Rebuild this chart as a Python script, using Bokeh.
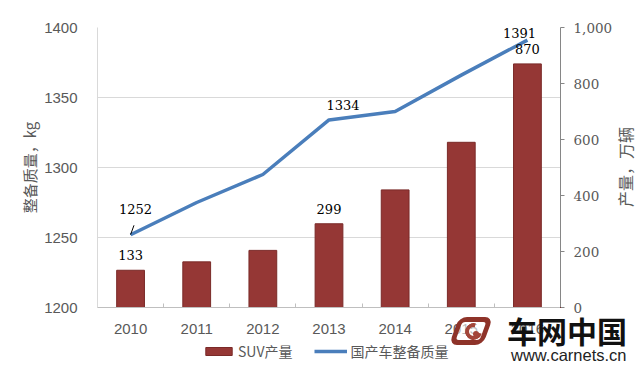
import math
from bokeh.plotting import figure
from bokeh.layouts import column
from bokeh.models import (Range1d, LinearAxis, FixedTicker, Legend, LegendItem,
                          NumeralTickFormatter, ColumnDataSource, Div)
from bokeh.embed import file_html
from bokeh.resources import INLINE
from bokeh.core.properties import value

# ---------------- data ----------------
years = ["2010", "2011", "2012", "2013", "2014", "2015", "2016"]
suv_output = [133, 163, 204, 299, 420, 590, 870]          # 万辆 (right axis)
curb_weight = [1252, 1275, 1295, 1334, 1340, 1366, 1391]  # kg (left axis)
bar_labeled = [0, 3, 6]
line_labeled = [0, 3, 6]
left_ticks = [1200, 1250, 1300, 1350, 1400]
right_ticks = [0, 200, 400, 600, 800, 1000]

# label offsets (style)
line_label_dx = [5, 14, -8]
line_label_dy = [-26, -15, -7]

xs = list(range(len(years)))

SANS = "Liberation Sans"
SERIF = "DejaVu Serif"
CJK = "Noto Sans CJK SC"
GRAY = "#595959"
BAR_FILL = "#953735"
BAR_LINE = "#7A2A28"
LINE_COLOR = "#4A7EBB"

W, H = 640, 373
LEFT, RIGHT, TOP, BOTTOM = 97, 80, 27, 66

p = figure(width=W, height=H, output_backend="svg", toolbar_location=None,
           x_range=Range1d(-0.5, len(years) - 0.5),
           y_range=Range1d(left_ticks[0], left_ticks[-1]),
           min_border_left=LEFT, min_border_right=RIGHT, min_border_top=TOP,
           min_border_bottom=BOTTOM)
p.outline_line_color = None
p.background_fill_color = "white"
p.border_fill_color = "white"

p.extra_y_ranges = {"prod": Range1d(right_ticks[0], right_ticks[-1])}

# grid
p.xgrid.grid_line_color = None
p.ygrid.ticker = FixedTicker(ticks=left_ticks)
p.ygrid.grid_line_color = "#D9D9D9"
p.ygrid.grid_line_width = 1

# left axis
ly = p.yaxis[0]
ly.ticker = FixedTicker(ticks=left_ticks)
ly.axis_line_color = "#D9D9D9"
ly.major_tick_line_color = None
ly.minor_tick_line_color = None
ly.major_label_text_font = SANS
ly.major_label_text_font_size = "15px"
ly.major_label_text_color = GRAY
ly.major_label_standoff = 14
ly.axis_label = "整备质量，kg"
ly.axis_label_text_font = CJK
ly.axis_label_text_font_size = "15px"
ly.axis_label_text_font_style = "normal"
ly.axis_label_text_color = GRAY
ly.axis_label_standoff = 1

# bottom axis
bx = p.xaxis[0]
bx.ticker = FixedTicker(ticks=xs, minor_ticks=[i - 0.5 for i in range(len(years) + 1)])
bx.major_label_overrides = {i: y for i, y in enumerate(years)}
bx.axis_line_color = "#BFBFBF"
bx.major_tick_line_color = None
bx.minor_tick_line_color = "#BFBFBF"
bx.minor_tick_in = 4
bx.minor_tick_out = 0
bx.major_label_text_font = SANS
bx.major_label_text_font_size = "15px"
bx.major_label_text_color = GRAY
bx.major_label_standoff = 10

# right axis
ry = LinearAxis(y_range_name="prod", ticker=FixedTicker(ticks=right_ticks),
                formatter=NumeralTickFormatter(format="0,0"))
ry.axis_line_color = "#868686"
ry.major_tick_line_color = "#868686"
ry.major_tick_in = 0
ry.major_tick_out = 4
ry.minor_tick_line_color = None
ry.major_label_text_font = SERIF
ry.major_label_text_font_size = "13.5px"
ry.major_label_text_color = GRAY
ry.major_label_standoff = 9
p.add_layout(ry, "right")

# bars
bars = p.vbar(x=xs, top=suv_output, bottom=0, width=0.42, y_range_name="prod",
              fill_color=BAR_FILL, line_color=BAR_LINE, line_width=1)
# line
line = p.line(x=xs, y=curb_weight, line_color=LINE_COLOR, line_width=3.5)

# data labels
bsrc = ColumnDataSource(dict(x=[xs[i] for i in bar_labeled],
                             y=[suv_output[i] for i in bar_labeled],
                             t=[str(suv_output[i]) for i in bar_labeled]))
p.text(x="x", y="y", text="t", source=bsrc, y_range_name="prod",
       text_align="center", text_baseline="middle", y_offset=-15,
       text_font=value(SERIF), text_font_size="13px", text_color="black")

lsrc = ColumnDataSource(dict(x=[xs[i] for i in line_labeled],
                             y=[curb_weight[i] for i in line_labeled],
                             t=[str(curb_weight[i]) for i in line_labeled],
                             dx=line_label_dx, dy=line_label_dy))
p.text(x="x", y="y", text="t", source=lsrc, x_offset="dx", y_offset="dy",
       text_align="center", text_baseline="middle",
       text_font=value(SERIF), text_font_size="13px", text_color="black")

# leader line for first line label
p.ray(x=[xs[0]], y=[curb_weight[0]], length=10, length_units="screen",
      angle=math.radians(70), line_color="black", line_width=1)

# ---------------- overlay strip: legend ----------------
# ranges chosen so that the strip's own copies of the series stay out of view;
# they only supply the legend glyphs
s = figure(width=W, height=BOTTOM, output_backend="svg", toolbar_location=None,
           x_range=Range1d(-100, -99), y_range=Range1d(-100, -99),
           x_axis_location=None, y_axis_location=None,
           min_border=0, margin=(-BOTTOM, 0, 0, 0))
s.xgrid.grid_line_color = None
s.ygrid.grid_line_color = None
s.outline_line_color = None
s.background_fill_alpha = 0
s.border_fill_alpha = 0
s.background_fill_color = None
s.border_fill_color = None

leg_bar = s.vbar(x=xs, top=suv_output, bottom=0, width=0.42,
                 fill_color=BAR_FILL, line_color=BAR_LINE)
leg_line = s.line(x=xs, y=curb_weight, line_color=LINE_COLOR, line_width=3.5)

legend = Legend(items=[LegendItem(label="SUV产量", renderers=[leg_bar]),
                       LegendItem(label="国产车整备质量", renderers=[leg_line])],
                orientation="horizontal", location=(205 - LEFT - 3, 12),
                glyph_width=33, glyph_height=10, label_height=14,
                label_standoff=3, spacing=22, padding=3, margin=0,
                label_text_font=CJK, label_text_font_size="14px",
                label_text_color=GRAY, border_line_color=None,
                background_fill_alpha=0)
s.add_layout(legend, "center")

# ---------------- overlay: right axis title, watermark ----------------
ov_html = (
    '<div style="position:relative;width:640px;height:373px;">'
    # right axis title, reading bottom-to-top
    '<div style="position:absolute;left:625px;top:167px;white-space:nowrap;'
    'transform:translate(-50%,-50%) rotate(-90deg);'
    "font-family:'Noto Sans CJK SC';font-size:16px;line-height:16px;"
    'color:#595959;">产量，万辆</div>'
    # logo mark (simplified)
    '<div style="position:absolute;left:454px;top:317px;width:34px;height:28px;'
    'border:5px solid #8E3329;border-radius:8px;transform:skewX(-20deg);'
    'background:rgba(255,255,255,0.6);"></div>'
    '<div style="position:absolute;left:465px;top:323px;width:17px;height:17px;'
    'border:4px solid #A3463A;border-right-color:transparent;border-radius:50%;'
    'transform:rotate(-30deg);"></div>'
    '<div style="position:absolute;left:473px;top:331px;width:6px;height:6px;'
    'background:#A3463A;border-radius:50%;"></div>'
    # watermark text
    '<div style="position:absolute;left:507px;top:315px;white-space:nowrap;'
    "font-family:'Noto Sans CJK SC';font-weight:bold;font-size:30px;"
    'line-height:30px;color:#111111;">车网中国</div>'
    '<div style="position:absolute;left:511px;top:347px;white-space:nowrap;'
    "font-family:'Liberation Sans';font-size:16.5px;line-height:16px;"
    'color:#222222;">www.carnets.cn</div>'
    '</div>'
)
ov = Div(text=ov_html, width=W, height=H, margin=(-H, 0, 0, 0))

layout = column(p, s, ov, spacing=0)
open("out.html", "w").write(file_html(layout, INLINE))
